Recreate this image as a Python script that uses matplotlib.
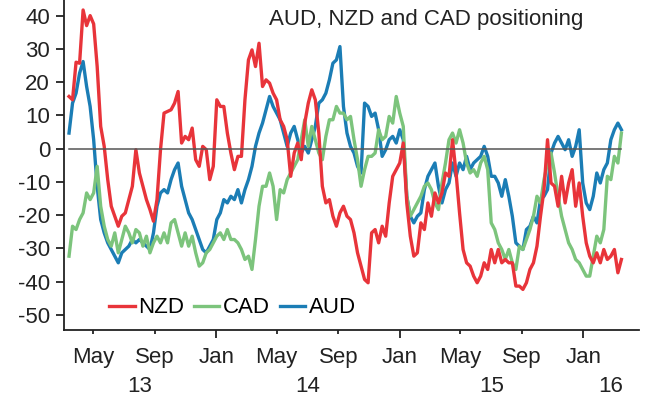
import pandas as pd
import matplotlib.pyplot as plt
import matplotlib.dates as mdates
import matplotlib.transforms as mtransforms

plt.rcParams['font.family'] = ['Liberation Sans', 'DejaVu Sans']
plt.rcParams['axes.unicode_minus'] = False

# weekly positioning readings, Mar 2013 - Mar 2016
start_date = '2013-03-14'
n_weeks = 158

nzd = [15.7, 14.7, 26, 25.7, 41.7, 37, 40, 37.5, 24.7, 6.7,
       0.7, -9.3, -17.3, -20.3, -23.3, -20.3, -19.3, -15.3, -11.3, -0.3,
       -7.3, -11.3, -15.3, -18.3, -21.8, -15.3, -0.3, 10.7, 11.2, 11.7,
       13.7, 17.2, 1.7, 3.7, 2.7, 6.2, -3.3, -5.3, 0.7, -0.3,
       -9.3, -5.3, 14.7, 12.7, 12.7, 4.7, -1.3, -6.3, -2.3, -2.3,
       14.7, 26.7, 29.7, 24.7, 31.7, 18.7, 20.7, 19.7, 16.7, 14.7,
       8.7, 6.7, 2.7, -8.3, -1.3, 1.7, -3.3, 7.7, 13.7, 17.7,
       14.7, 4.7, -11.3, -16.3, -15.3, -20.3, -23.3, -19.3, -17.3, -20.3,
       -21.3, -25.3, -31.3, -35.3, -39.3, -40.3, -25.3, -24.3, -28.3, -23.3,
       -26.3, -16.3, -8.3, -6.3, -4.3, 1.7, -16.3, -26.3, -32.3, -31.3,
       -22.3, -24.3, -16.3, -20.3, -13.3, -16.3, -13.3, -7.3, -8.3, 2.7,
       -7.3, -19.3, -30.3, -34.3, -35.3, -38.3, -40.3, -38.3, -34.3, -36.3,
       -30.3, -34.3, -30.3, -34.3, -33.3, -34.3, -34.3, -41.3, -41.3, -42.3,
       -40.3, -36.3, -34.3, -29.3, -20.3, -12.3, 2.7, -10.3, -11.3, -17.3,
       -8.3, -16.3, -10.3, -6.3, -17.3, -10.3, -20.3, -28.3, -32.3, -34.3,
       -31.3, -34.3, -30.3, -33.3, -32.3, -30.3, -37.3, -33.3]

cad = [-32.3, -23.3, -24.3, -21.3, -19.3, -13.3, -15.3, -13.3, -5.3, -17.3,
       -23.3, -27.3, -29.3, -25.3, -31.3, -27.3, -23.3, -25.3, -28.3, -24.3,
       -25.3, -29.3, -26.3, -31.3, -28.3, -26.3, -28.3, -25.3, -28.3, -22.3,
       -21.3, -25.3, -29.3, -25.3, -29.3, -26.3, -31.3, -35.3, -34.3, -31.3,
       -30.3, -28.3, -26.3, -25.3, -27.3, -24.3, -27.3, -27.3, -28.3, -30.3,
       -33.3, -32.3, -36.3, -27.3, -17.3, -11.3, -11.3, -7.3, -11.3, -21.3,
       -12.3, -13.3, -9.3, -7.3, -5.3, -3.3, 2.7, 8.7, 0.7, 6.7,
       2.7, -1.3, -3.3, 3.7, 8.7, 8.7, 12.7, 10.7, 10.7, 8.7,
       9.7, 2.7, -3.3, -11.3, -6.3, -2.3, -2.3, -1.3, 5.7, 2.7,
       3.7, 9.7, 7.7, 15.7, 10.7, 6.7, -14.3, -20.3, -18.3, -16.3,
       -14.3, -11.3, -10.3, -12.3, -16.3, -18.3, -10.3, -4.3, 2.7, 4.7,
       1.7, 5.7, 1.7, -4.3, -7.3, -6.3, -8.3, -4.3, -2.3, -6.3,
       -22.3, -24.3, -28.3, -30.3, -33.3, -30.3, -34.3, -36.3, -29.3, -30.3,
       -27.3, -24.3, -20.3, -14.3, -16.3, -9.3, -4.3, -1.3, -7.3, -14.3,
       -20.3, -24.3, -28.3, -30.3, -33.3, -34.3, -36.3, -38.3, -38.3, -32.3,
       -26.3, -28.3, -24.3, -8.3, -9.3, -2.3, -4.3, 4.7]

aud = [4.7, 13.7, 16.7, 22.7, 26.2, 18.7, 12.7, 2.7, -11.3, -21.3,
       -25.3, -28.3, -30.3, -32.3, -34.3, -31.3, -30.3, -29.3, -27.3, -28.3,
       -27.3, -28.3, -29.3, -30.3, -25.3, -17.3, -13.3, -12.3, -13.3, -9.3,
       -6.3, -4.3, -11.3, -15.3, -19.3, -21.3, -24.3, -27.3, -30.3, -31.3,
       -29.3, -27.3, -21.3, -19.3, -15.3, -16.3, -14.3, -15.3, -12.3, -16.3,
       -12.3, -9.3, -5.3, 0.7, 4.7, 7.7, 11.7, 15.7, 12.7, 10.7,
       8.7, 4.7, 0.7, 4.7, 6.7, 2.7, -1.3, 0.7, -1.3, 2.7,
       6.7, 13.7, 14.7, 16.7, 20.7, 25.7, 26.7, 30.7, 12.7, 4.7,
       0.7, -1.3, -5.3, -7.3, 13.7, 12.7, 9.7, 10.7, 5.7, -2.3,
       -0.3, 2.7, 3.7, 1.7, 5.7, 2.7, -14.3, -20.3, -22.3, -20.3,
       -19.3, -12.3, -8.3, -6.3, -4.3, -11.3, -16.3, -12.3, -10.3, -4.3,
       -8.3, -4.3, -6.3, -2.3, -6.3, -4.3, -3.3, -2.3, 0.7, -2.3,
       -8.3, -8.3, -10.3, -14.3, -9.3, -14.3, -20.3, -28.3, -29.3, -30.3,
       -24.3, -23.3, -20.3, -22.3, -15.3, -14.3, -12.3, -1.3, 1.7, 3.7,
       1.7, -0.3, 2.7, -2.3, 0.7, 5.7, -10.3, -16.3, -18.3, -14.3,
       -7.3, -10.3, -6.3, -4.3, 2.7, 5.7, 7.7, 5.7]

dates = pd.date_range(start_date, periods=n_weeks, freq='7D')

col_nzd = '#e8343a'
col_cad = '#7cc47c'
col_aud = '#1b7db5'
fs = 16

fig = plt.figure(figsize=(6.63, 3.97), dpi=100)
ax = fig.add_axes([64 / 663, 67 / 397, (639 - 64) / 663, 330 / 397])

l_aud, = ax.plot(dates, aud, color=col_aud, lw=2.4, label='AUD')
l_cad, = ax.plot(dates, cad, color=col_cad, lw=2.4, label='CAD')
l_nzd, = ax.plot(dates, nzd, color=col_nzd, lw=2.4, label='NZD')
ax.plot([dates[0], dates[-1]], [0, 0], color='#555555', lw=1.1, zorder=5)

ax.set_xlim(pd.Timestamp('2013-03-04'), pd.Timestamp('2016-04-21'))
ax.set_ylim(-54.5, 44.7)
ax.set_yticks(range(-50, 41, 10))

for s in ['top', 'right']:
    ax.spines[s].set_visible(False)
for s in ['left', 'bottom']:
    ax.spines[s].set_linewidth(1.3)
    ax.spines[s].set_color('#222222')

ax.xaxis.set_major_locator(mdates.MonthLocator(bymonth=[1]))
ax.xaxis.set_minor_locator(mdates.MonthLocator(bymonth=[5, 9]))
ax.xaxis.set_major_formatter(mdates.DateFormatter('%b'))
ax.xaxis.set_minor_formatter(mdates.DateFormatter('%b'))
ax.tick_params(axis='x', which='major', direction='out', length=6, width=1.3, pad=6,
               labelsize=fs, colors='#222222')
ax.tick_params(axis='x', which='minor', direction='out', length=3, width=1.3, pad=9,
               labelsize=fs, colors='#222222')
ax.tick_params(axis='y', direction='out', length=6, width=1.3, pad=4,
               labelsize=fs, colors='#222222')

# year labels centred on the visible part of each year
trans = mtransforms.blended_transform_factory(ax.transData, ax.transAxes)
x0, x1 = ax.get_xlim()
for yr in [2013, 2014, 2015, 2016]:
    a = max(mdates.date2num(pd.Timestamp(f'{yr}-01-01')), x0)
    b = min(mdates.date2num(pd.Timestamp(f'{yr + 1}-01-01')), x1)
    ax.text((a + b) / 2, -0.17, str(yr)[2:], transform=trans, ha='center', va='center',
            fontsize=fs, color='#222222')

ax.legend(handles=[l_nzd, l_cad, l_aud], loc='lower left', bbox_to_anchor=(0.055, -0.005),
          ncol=3, frameon=False, fontsize=fs, handlelength=1.15, handletextpad=0.15,
          columnspacing=0.45, borderaxespad=0.2)

fig.text(426 / 663, 1 - 25 / 397, 'AUD, NZD and CAD positioning', ha='center', va='baseline',
         fontsize=fs, color='#222222')

fig.savefig('out.png', dpi=100)
